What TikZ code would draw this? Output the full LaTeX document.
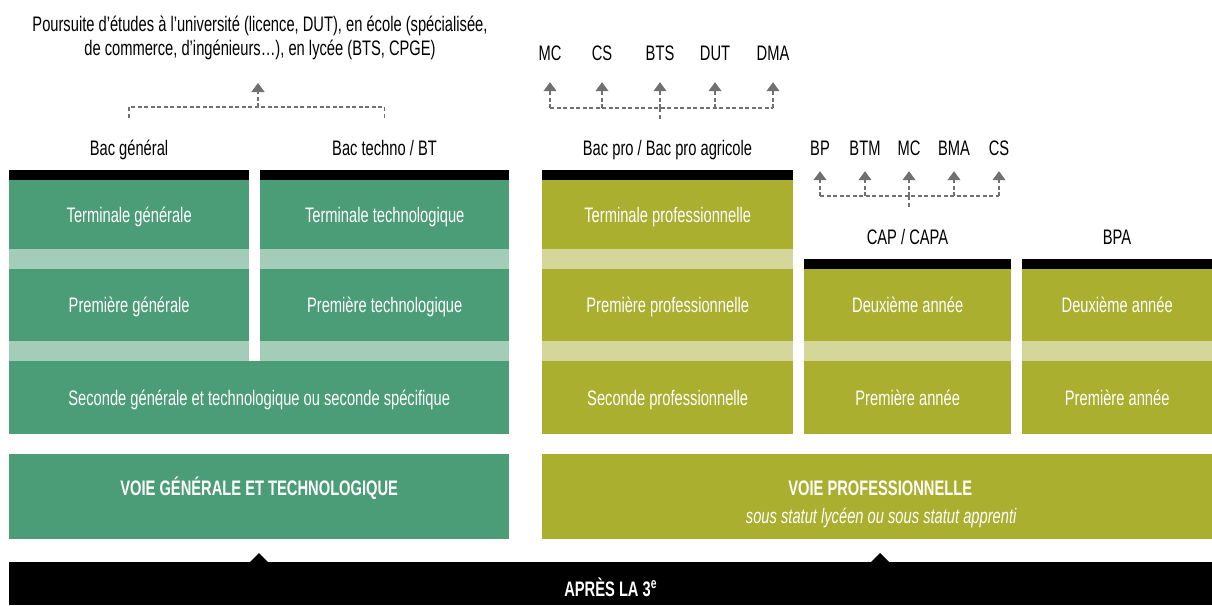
\documentclass[tikz,border=0pt]{standalone}
\usepackage{fontspec}
\setmainfont{Liberation Sans}[FakeStretch=0.70]
\usetikzlibrary{arrows.meta,positioning}

\definecolor{voiegreen}{HTML}{4B9D78}
\definecolor{voiegreenlt}{HTML}{A4CDB9}
\definecolor{voieolive}{HTML}{AAAF2F}
\definecolor{voieolivelt}{HTML}{D5D69A}
\definecolor{dashgray}{HTML}{707070}

\newcommand{\boxfont}{\fontsize{21}{21}\selectfont}

\begin{document}
\begin{tikzpicture}[x=1pt, y=-1pt, >={Triangle[width=13pt,length=9pt]},
    font=\boxfont,
    box/.style={anchor=north west, inner sep=0pt, text=white, text height=15pt, text depth=0pt},
    gbox/.style={box, fill=voiegreen},
    obox/.style={box, fill=voieolive},
    lab/.style={anchor=base, inner sep=0pt, text height=15pt, text depth=4pt},
    dline/.style={draw=dashgray, line width=1.1pt, dash pattern=on 4pt off 2.5pt},
    uparrow/.style={dline, ->}]

      \useasboundingbox (0,0) rectangle (1212,605);

      % Voie generale et technologique: columns
      \fill (9,170) rectangle (249,180);
      \fill (260,170) rectangle (509,180);
      \node[gbox, minimum width=240pt, minimum height=69pt] (termg) at (9,180) {Terminale générale};
      \node[gbox, minimum width=249pt, minimum height=69pt] (termt) at (260,180) {Terminale technologique};
      \fill[voiegreenlt] (9,249) rectangle (249,269);
      \fill[voiegreenlt] (260,249) rectangle (509,269);
      \node[gbox, minimum width=240pt, minimum height=72pt] (premg) at (9,269) {Première générale};
      \node[gbox, minimum width=249pt, minimum height=72pt] (premt) at (260,269) {Première technologique};
      \fill[voiegreenlt] (9,341) rectangle (249,361);
      \fill[voiegreenlt] (260,341) rectangle (509,361);
      \node[gbox, minimum width=500pt, minimum height=73pt] (secg) at (9,361) {Seconde générale et technologique ou seconde spécifique};

      % Voie professionnelle: bac pro
      \fill (542,170) rectangle (793,180);
      \node[obox, minimum width=251pt, minimum height=69pt] (termp) at (542,180) {Terminale professionnelle};
      \fill[voieolivelt] (542,249) rectangle (793,269);
      \node[obox, minimum width=251pt, minimum height=72pt] (premp) at (542,269) {Première professionnelle};
      \fill[voieolivelt] (542,341) rectangle (793,361);
      \node[obox, minimum width=251pt, minimum height=73pt] (secp) at (542,361) {Seconde professionnelle};

      % CAP and BPA
      \fill (804,259) rectangle (1011,269);
      \fill (1022,259) rectangle (1212,269);
      \node[obox, minimum width=207pt, minimum height=72pt] (cap2) at (804,269) {Deuxième année};
      \node[obox, minimum width=190pt, minimum height=72pt] (bpa2) at (1022,269) {Deuxième année};
      \fill[voieolivelt] (804,341) rectangle (1011,361);
      \fill[voieolivelt] (1022,341) rectangle (1212,361);
      \node[obox, minimum width=207pt, minimum height=73pt] (cap1) at (804,361) {Première année};
      \node[obox, minimum width=190pt, minimum height=73pt] (bpa1) at (1022,361) {Première année};

      % Diplomas
      \node[lab] (bacg) at (129,155) {Bac général};
      \node[lab] (bact) at (384.5,155) {Bac techno / BT};
      \node[lab] (bacp) at (667.5,155) {Bac pro / Bac pro agricole};
      \node[lab] (cap) at (907.5,244) {CAP / CAPA};
      \node[lab] (bpa) at (1117,244) {BPA};

      % Poursuite after bac general / techno
      \node[anchor=south, inner sep=0pt, align=center, font=\fontsize{21}{24}\selectfont] (suite) at (260,60)
        {Poursuite d’études à l’université (licence, DUT), en école (spécialisée,\\
         de commerce, d’ingénieurs…), en lycée (BTS, CPGE)};
      \coordinate (jg) at (258,107);
      \draw[dline, shorten <=22pt, shorten >=22pt] (bacg.north) |- (jg) -| (bact.north);
      \draw[uparrow, shorten >=23pt] (jg) -- (jg |- suite.south);

      % Poursuite after bac pro
      \coordinate (jp) at (660,108);
      \foreach \lab/\xx in {MC/550,CS/602,BTS/660,DUT/715,DMA/773} {
        \node[lab] (up-\lab) at (\xx,60) {\lab};
        \draw[uparrow, shorten >=18pt] (up-\lab |- jp) -- (up-\lab.south);
      }
      \draw[dline] (up-MC |- jp) -- (up-DMA |- jp);
      \draw[dline, shorten >=20pt] (jp) -- (jp |- bacp.north);

      % Poursuite after CAP
      \coordinate (jc) at (909,196);
      \foreach \lab/\xx in {BP/820,BTM/865,MC/909,BMA/954,CS/999} {
        \node[lab] (cp-\lab) at (\xx,155) {\lab};
        \draw[uparrow, shorten >=12pt] (cp-\lab |- jc) -- (cp-\lab.south);
      }
      \draw[dline] (cp-BP |- jc) -- (cp-CS |- jc);
      \draw[dline, shorten >=21pt] (jc) -- (jc |- cap.north);

      % Voies
      \node[gbox, minimum width=500pt, minimum height=85pt] (voieg) at (9,454) {};
      \node[anchor=base, text=white, font=\boxfont\bfseries] (voieg-t) at ([yshift=-41.5pt]voieg.north) {VOIE GÉNÉRALE ET TECHNOLOGIQUE};
      \node[obox, minimum width=670pt, minimum height=85pt] (voiep) at (542,454) {};
      \node[anchor=base, text=white, font=\boxfont\bfseries] (voiep-t) at ([xshift=3pt,yshift=-41.5pt]voiep.north) {VOIE PROFESSIONNELLE};
      \node[anchor=base, text=white, font=\fontsize{21}{21}\selectfont\itshape] (voiep-s) at ([xshift=4pt,yshift=-69pt]voiep.north) {sous statut lycéen ou sous statut apprenti};

      % Apres la 3e
      \node[anchor=north west, fill=black, inner sep=0pt, minimum width=1203pt, minimum height=43pt] (apres) at (9,562) {};
      \node[anchor=base, text=white, font=\boxfont\bfseries] (apres-t) at ([yshift=-34pt]apres.north) {APRÈS LA 3\textsuperscript{e}};
      \fill (250,562) -- (259,553) -- (268,562) -- cycle;
      \fill (871,562) -- (880,553) -- (889,562) -- cycle;
    \end{tikzpicture}
\end{document}
